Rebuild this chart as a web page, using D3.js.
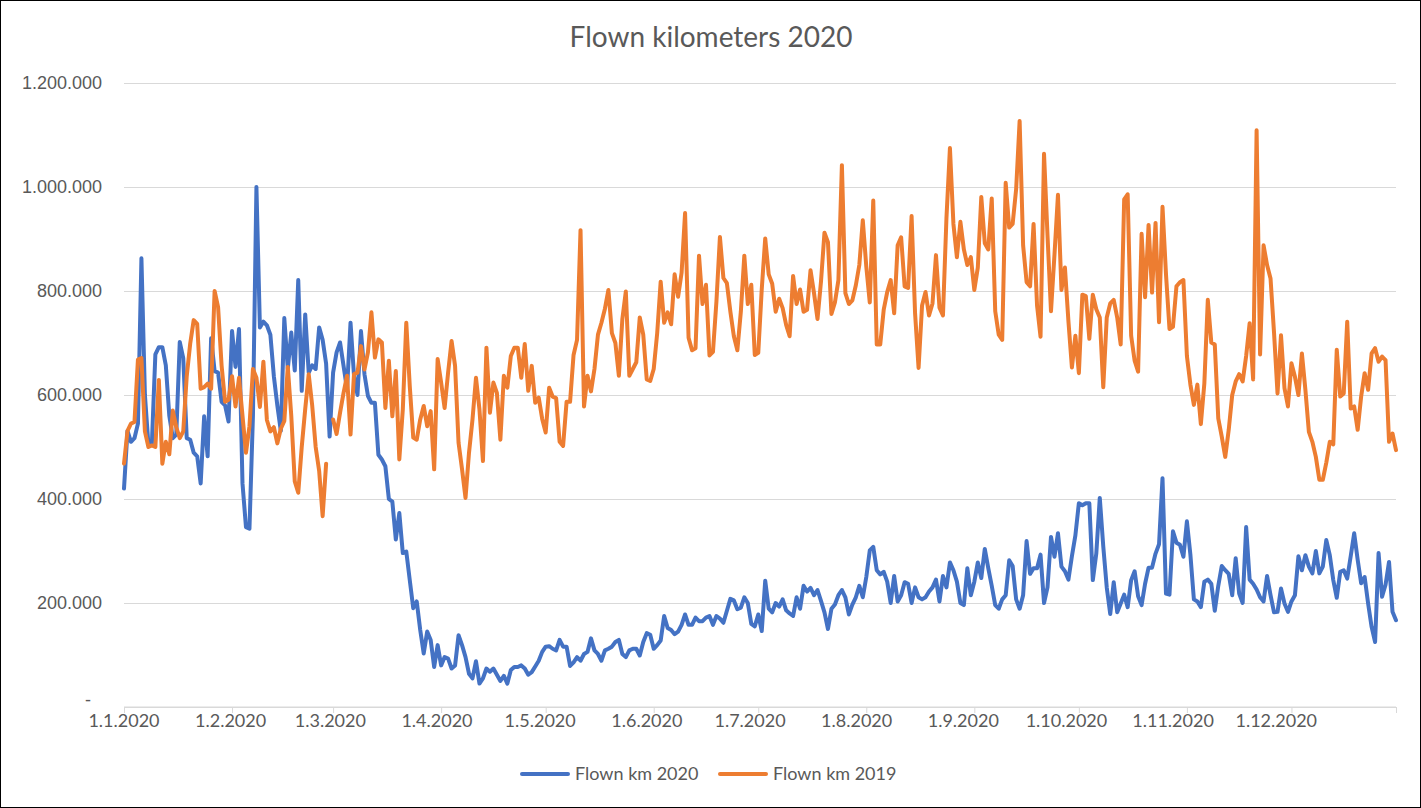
<!DOCTYPE html>
<html>
<head>
<meta charset="utf-8">
<script src="https://cdn.jsdelivr.net/npm/d3@7/dist/d3.min.js"></script>
<style>
  html, body { margin: 0; padding: 0; background: #fff; }
  svg { display: block; font-family: Lato, "Open Sans", sans-serif; }
</style>
</head>
<body>
<div id="chart"></div>
<script>
// Daily flown km, in thousands (1.1. - 31.12.)
const flown2020 = [
  420, 531, 510, 517, 545, 863, 600, 505, 507, 678, 692, 692, 657, 560, 517, 524, 702, 671, 517, 514,
  489, 482, 430, 559, 482, 709, 646, 643, 587, 580, 549, 723, 654, 727, 430, 346, 343, 560, 1000, 730,
  741, 734, 716, 636, 580, 531, 748, 650, 720, 647, 821, 608, 755, 643, 657, 650, 730, 706, 660, 520,
  643, 682, 701, 656, 611, 739, 637, 600, 723, 640, 598, 585, 585, 485, 476, 463, 400, 395, 322, 373,
  296, 299, 244, 190, 203, 148, 103, 145, 129, 77, 119, 80, 96, 93, 74, 80, 138, 119, 96, 64,
  55, 88, 45, 55, 74, 68, 74, 62, 50, 60, 45, 71, 77, 77, 80, 74, 62, 67, 78, 89,
  106, 116, 117, 112, 109, 129, 116, 116, 79, 86, 96, 89, 102, 106, 132, 109, 102, 89, 109, 112,
  116, 125, 129, 102, 96, 109, 112, 112, 99, 125, 142, 139, 112, 119, 128, 175, 152, 148, 140, 145,
  158, 178, 158, 158, 172, 165, 165, 172, 175, 158, 175, 170, 162, 185, 208, 205, 188, 191, 211, 200,
  160, 155, 178, 146, 243, 189, 182, 200, 193, 207, 186, 180, 175, 211, 189, 233, 222, 229, 215, 225,
  204, 182, 150, 189, 197, 215, 225, 211, 178, 197, 211, 233, 211, 250, 301, 308, 263, 255, 260, 241,
  200, 252, 203, 215, 240, 237, 200, 230, 211, 207, 211, 222, 230, 245, 203, 252, 230, 278, 263, 241,
  200, 196, 267, 215, 241, 278, 248, 304, 267, 233, 196, 189, 207, 215, 282, 271, 207, 189, 215, 319,
  256, 267, 267, 293, 200, 230, 327, 289, 334, 270, 261, 245, 290, 330, 392, 388, 392, 392, 244, 295,
  402, 309, 230, 179, 240, 182, 199, 216, 192, 244, 261, 213, 196, 237, 268, 268, 295, 313, 440, 218,
  216, 338, 316, 312, 289, 357, 293, 207, 203, 192, 241, 245, 237, 185, 233, 271, 263, 256, 215, 286,
  218, 200, 346, 245, 237, 226, 211, 203, 252, 215, 182, 183, 228, 199, 183, 203, 215, 290, 263, 292,
  270, 257, 300, 257, 270, 321, 292, 244, 210, 260, 263, 247, 290, 334, 283, 238, 250, 199, 154, 125,
  296, 212, 235, 279, 183, 167
];

// 2019 has no 29.2., so that day stays empty
const flown2019 = [
  468, 531, 545, 548, 668, 671, 530, 500, 503, 500, 629, 468, 510, 486, 570, 538, 517, 530, 636, 699,
  744, 737, 612, 615, 622, 612, 800, 769, 657, 587, 591, 636, 578, 633, 560, 489, 540, 650, 633, 577,
  664, 552, 530, 538, 507, 535, 550, 654, 560, 434, 412, 500, 573, 640, 580, 500, 454, 367, 468, null,
  553, 525, 566, 604, 637, 524, 640, 643, 694, 649, 682, 759, 672, 707, 701, 575, 666, 559, 646, 476,
  572, 739, 617, 518, 514, 553, 579, 540, 569, 457, 669, 624, 575, 643, 704, 656, 508, 457, 402, 489,
  553, 633, 572, 473, 691, 566, 624, 604, 514, 637, 614, 675, 691, 691, 633, 698, 608, 656, 585, 595,
  554, 528, 614, 597, 594, 510, 502, 587, 587, 677, 706, 917, 578, 637, 607, 650, 716, 739, 766, 802,
  719, 700, 637, 746, 799, 637, 650, 663, 749, 716, 630, 627, 650, 719, 818, 739, 759, 736, 832, 789,
  835, 950, 710, 686, 690, 868, 775, 812, 676, 683, 780, 904, 825, 815, 760, 713, 686, 760, 868, 775,
  812, 677, 681, 803, 901, 832, 814, 760, 785, 767, 735, 713, 829, 775, 803, 760, 764, 840, 796, 746,
  818, 912, 894, 756, 778, 821, 1042, 796, 775, 782, 811, 850, 936, 847, 778, 974, 697, 697, 764, 798,
  821, 757, 888, 903, 809, 806, 944, 757, 652, 772, 798, 753, 776, 869, 768, 753, 940, 1075, 929, 865,
  933, 880, 850, 865, 802, 845, 981, 892, 880, 978, 761, 716, 706, 1008, 922, 929, 996, 1127, 888, 817,
  809, 929, 772, 712, 1064, 907, 761, 870, 985, 802, 845, 742, 653, 714, 642, 793, 790, 708, 793, 765,
  749, 615, 749, 776, 783, 749, 697, 976, 986, 714, 666, 645, 910, 788, 927, 797, 931, 740, 962, 832,
  727, 731, 809, 817, 821, 675, 620, 581, 620, 544, 622, 783, 701, 697, 555, 520, 481, 533, 600, 626,
  640, 626, 675, 738, 630, 1109, 678, 888, 850, 824, 720, 603, 715, 613, 578, 661, 635, 600, 680, 610,
  529, 510, 481, 437, 437, 470, 510, 505, 687, 597, 603, 741, 574, 578, 533, 597, 642, 610, 680, 690,
  664, 674, 667, 510, 526, 494
];

const monthLabels = ['1.1.2020', '1.2.2020', '1.3.2020', '1.4.2020', '1.5.2020', '1.6.2020',
  '1.7.2020', '1.8.2020', '1.9.2020', '1.10.2020', '1.11.2020', '1.12.2020'];
const yTicks = [0, 200, 400, 600, 800, 1000, 1200];
const yTickLabels = ['-', '200.000', '400.000', '600.000', '800.000', '1.000.000', '1.200.000'];
const seriesNames = ['Flown km 2020', 'Flown km 2019'];

const colors = { blue: '#4472C4', orange: '#ED7D31', grid: '#D9D9D9', text: '#595959' };

const width = 1421;
const height = 808;
const plot = { left: 124, right: 1396, top: 83, bottom: 707 };

const days = d3.timeDay.range(new Date(2020, 0, 1), new Date(2021, 0, 1));
const monthStarts = d3.timeMonth.range(new Date(2020, 0, 1), new Date(2021, 0, 1));

const svg = d3.select('#chart')
  .append('svg')
  .attr('width', width)
  .attr('height', height);

svg.append('rect')
  .attr('x', 0.5).attr('y', 0.5)
  .attr('width', width - 1).attr('height', height - 1)
  .attr('fill', '#fff')
  .attr('stroke', '#000')
  .attr('stroke-width', 1);

// Scales
const x = d3.scaleTime()
  .domain([days[0], days[days.length - 1]])
  .range([plot.left, plot.right]);

// Excel spaces the month labels a bit tighter than the data points
const xLabel = x.copy()
  .range([plot.left, plot.left + (plot.right - plot.left) * 0.987]);

const y = d3.scaleLinear()
  .domain([0, 1200])
  .range([plot.bottom, plot.top]);

// Gridlines + y labels
const yAxis = svg.append('g')
  .attr('transform', `translate(${plot.left},0)`)
  .call(d3.axisLeft(y)
    .tickValues(yTicks)
    .tickSize(-(plot.right - plot.left))
    .tickPadding(22)
    .tickFormat((d, i) => yTickLabels[i]));

yAxis.select('.domain').remove();
yAxis.selectAll('line').attr('stroke', colors.grid).attr('stroke-width', 1);
yAxis.selectAll('text')
  .attr('fill', colors.text)
  .attr('font-size', '18px');
// zero is shown as an accounting dash, kept clear of the first date label
yAxis.selectAll('.tick').filter(d => d === 0).select('text')
  .attr('dx', '-11')
  .attr('dy', '-0.1em');

// X axis: line and tick marks
const xAxis = svg.append('g')
  .attr('transform', `translate(0,${plot.bottom})`)
  .call(d3.axisBottom(x)
    .tickValues(monthStarts.concat([days[days.length - 1]]))
    .tickSize(6)
    .tickFormat(''));

xAxis.select('.domain').attr('stroke', colors.grid).attr('d', `M${plot.left},0H${plot.right}`);
xAxis.selectAll('line').attr('stroke', colors.grid);

// X labels
svg.append('g')
  .selectAll('text')
  .data(monthStarts)
  .join('text')
  .attr('x', d => xLabel(d))
  .attr('y', plot.bottom + 20)
  .attr('text-anchor', 'middle')
  .attr('fill', colors.text)
  .attr('font-size', '18px')
  .text((d, i) => monthLabels[i]);

// Lines
const line = d3.line()
  .defined(d => d != null)
  .x((d, i) => x(days[i]))
  .y(d => y(d));

svg.append('path')
  .datum(flown2020)
  .attr('fill', 'none')
  .attr('stroke', colors.blue)
  .attr('stroke-width', 4)
  .attr('stroke-linejoin', 'round')
  .attr('stroke-linecap', 'round')
  .attr('d', line);

svg.append('path')
  .datum(flown2019)
  .attr('fill', 'none')
  .attr('stroke', colors.orange)
  .attr('stroke-width', 4)
  .attr('stroke-linejoin', 'round')
  .attr('stroke-linecap', 'round')
  .attr('d', line);

// Title
svg.append('text')
  .attr('x', 711)
  .attr('y', 47)
  .attr('text-anchor', 'middle')
  .attr('fill', colors.text)
  .attr('font-size', '28px')
  .text('Flown kilometers 2020');

// Legend
const legend = svg.append('g').attr('transform', 'translate(522,774)');
[colors.blue, colors.orange].forEach((c, i) => {
  const g = legend.append('g').attr('transform', `translate(${i * 198},0)`);
  g.append('line')
    .attr('x1', 0).attr('x2', 46)
    .attr('stroke', c)
    .attr('stroke-width', 4)
    .attr('stroke-linecap', 'round');
  g.append('text')
    .attr('x', 53)
    .attr('y', 6)
    .attr('fill', colors.text)
    .attr('font-size', '18px')
    .text(seriesNames[i]);
});
</script>
</body>
</html>
